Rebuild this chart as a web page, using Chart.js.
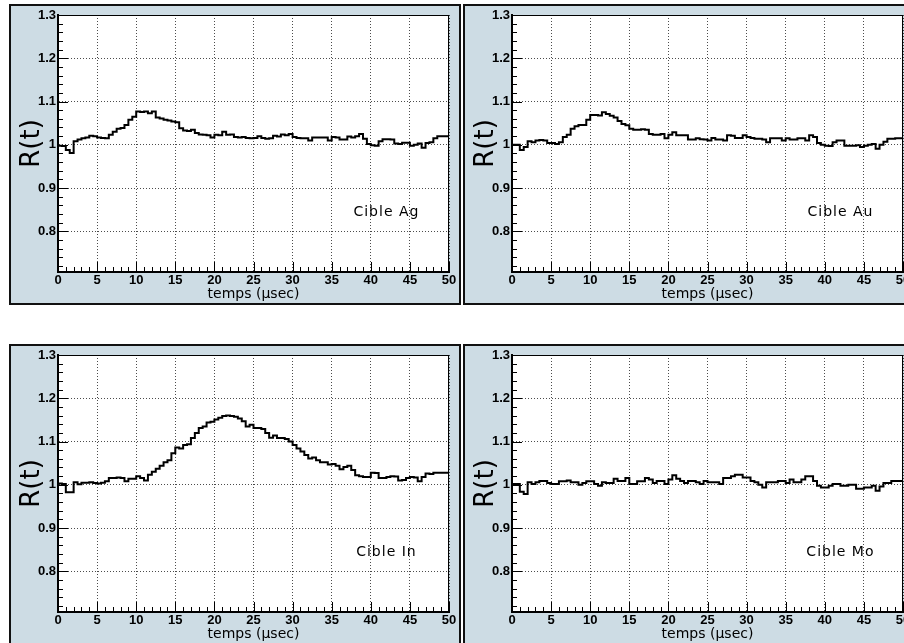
<!DOCTYPE html>
<html>
<head>
<meta charset="utf-8">
<script src="https://cdn.jsdelivr.net/npm/chart.js@4.4.1/dist/chart.umd.min.js"></script>
<style>
html, body { margin: 0; padding: 0; overflow: hidden; background: #fff; }
body { position: relative; width: 904px; height: 643px; }
canvas { position: absolute; }
</style>
</head>
<body>
<canvas id="chartAg" width="452" height="301" style="left:9px;top:4px"></canvas>
<canvas id="chartAu" width="452" height="301" style="left:463px;top:4px"></canvas>
<canvas id="chartIn" width="452" height="301" style="left:9px;top:344px"></canvas>
<canvas id="chartMo" width="452" height="301" style="left:463px;top:344px"></canvas>
<script>
const binWidth = 0.5;
const xTicks = [0, 5, 10, 15, 20, 25, 30, 35, 40, 45, 50];
const yTicks = [0.8, 0.9, 1, 1.1, 1.2, 1.3];
const targets = ['Cible Ag', 'Cible Au', 'Cible In', 'Cible Mo'];

const agValues = [
    1.002, 0.998, 0.997, 0.988, 0.981, 1.008, 1.012, 1.015, 1.017, 1.021,
    1.020, 1.017, 1.016, 1.015, 1.023, 1.030, 1.037, 1.039, 1.046, 1.058,
    1.065, 1.077, 1.076, 1.077, 1.073, 1.077, 1.063, 1.061, 1.058, 1.056,
    1.054, 1.052, 1.038, 1.033, 1.032, 1.035, 1.027, 1.024, 1.023, 1.022,
    1.017, 1.023, 1.022, 1.030, 1.023, 1.024, 1.018, 1.017, 1.018, 1.016,
    1.015, 1.016, 1.020, 1.016, 1.014, 1.015, 1.021, 1.019, 1.024, 1.022,
    1.025, 1.018, 1.016, 1.015, 1.015, 1.010, 1.017, 1.017, 1.017, 1.017,
    1.010, 1.018, 1.017, 1.012, 1.012, 1.019, 1.017, 1.020, 1.025, 1.014,
    1.002, 0.999, 0.998, 1.008, 1.013, 1.013, 1.012, 1.003, 1.002, 1.005,
    1.005, 0.998, 1.000, 1.003, 0.993, 1.004, 1.006, 1.015, 1.020, 1.020
];
const auValues = [
    1.000, 1.000, 1.000, 0.988, 0.995, 1.008, 1.006, 1.010, 1.011, 1.010,
    1.004, 1.004, 1.002, 1.006, 1.018, 1.023, 1.037, 1.043, 1.046, 1.046,
    1.058, 1.069, 1.069, 1.068, 1.075, 1.071, 1.067, 1.063, 1.055, 1.048,
    1.045, 1.037, 1.035, 1.035, 1.036, 1.035, 1.025, 1.023, 1.023, 1.025,
    1.015, 1.023, 1.029, 1.022, 1.022, 1.022, 1.012, 1.012, 1.015, 1.013,
    1.012, 1.010, 1.016, 1.012, 1.012, 1.010, 1.022, 1.021, 1.016, 1.016,
    1.022, 1.018, 1.016, 1.014, 1.014, 1.012, 1.006, 1.015, 1.015, 1.015,
    1.010, 1.015, 1.012, 1.012, 1.015, 1.015, 1.010, 1.022, 1.018, 1.004,
    1.000, 0.998, 0.997, 1.006, 1.010, 1.010, 0.998, 0.998, 0.998, 0.999,
    0.995, 0.998, 1.000, 1.002, 0.991, 1.000, 1.007, 1.014, 1.014, 1.015
];
const inValues = [
    1.000, 1.003, 1.002, 0.983, 0.983, 1.006, 1.001, 1.005, 1.005, 1.006,
    1.004, 1.003, 1.005, 1.008, 1.016, 1.016, 1.017, 1.016, 1.008, 1.014,
    1.014, 1.020, 1.016, 1.010, 1.023, 1.030, 1.037, 1.044, 1.052, 1.057,
    1.073, 1.086, 1.084, 1.092, 1.094, 1.108, 1.120, 1.131, 1.135, 1.144,
    1.146, 1.151, 1.155, 1.159, 1.160, 1.159, 1.157, 1.153, 1.147, 1.135,
    1.139, 1.131, 1.131, 1.129, 1.120, 1.109, 1.114, 1.108, 1.108, 1.106,
    1.100, 1.092, 1.084, 1.077, 1.069, 1.061, 1.063, 1.057, 1.052, 1.052,
    1.047, 1.048, 1.044, 1.036, 1.041, 1.044, 1.034, 1.022, 1.020, 1.018,
    1.018, 1.028, 1.027, 1.016, 1.016, 1.018, 1.020, 1.019, 1.010, 1.011,
    1.016, 1.018, 1.017, 1.008, 1.018, 1.026, 1.025, 1.028, 1.028, 1.028
];
const moValues = [
    1.006, 1.002, 1.002, 0.984, 0.979, 1.006, 1.002, 1.006, 1.009, 1.009,
    1.004, 1.002, 1.002, 1.008, 1.008, 1.010, 1.006, 1.006, 1.000, 1.004,
    1.008, 1.008, 1.002, 0.998, 1.006, 1.004, 1.004, 1.014, 1.009, 1.009,
    1.016, 1.002, 1.002, 1.008, 1.008, 1.016, 1.012, 1.004, 1.009, 1.009,
    1.002, 1.012, 1.022, 1.014, 1.009, 1.004, 1.009, 1.009, 1.006, 1.002,
    1.009, 1.006, 1.006, 1.006, 1.002, 1.016, 1.016, 1.020, 1.023, 1.023,
    1.017, 1.017, 1.009, 1.006, 1.000, 0.994, 1.006, 1.006, 1.006, 1.009,
    1.009, 1.004, 1.012, 1.006, 1.006, 1.012, 1.020, 1.020, 1.009, 0.998,
    0.994, 0.994, 0.998, 1.002, 1.002, 0.998, 0.998, 1.000, 1.000, 0.991,
    0.991, 0.994, 0.994, 0.998, 0.986, 0.996, 1.004, 1.004, 1.009, 1.009
];

function toSteps(values) {
    const pts = values.map((v, i) => ({ x: i * binWidth, y: v }));
    pts.push({ x: values.length * binWidth, y: values[values.length - 1] });
    return pts;
}

const panelPlugin = {
    id: 'panel',
    beforeDraw: (chart) => {
        const { ctx, chartArea: a, width, height } = chart;
        ctx.save();
        ctx.fillStyle = '#cddce4';
        ctx.fillRect(0, 0, width, height);
        ctx.fillStyle = '#fff';
        ctx.fillRect(a.left, a.top, a.right - a.left, a.bottom - a.top);
        ctx.strokeStyle = '#111';
        ctx.lineWidth = 2;
        ctx.strokeRect(1, 1, width - 2, height - 2);
        ctx.restore();
    },
    afterDraw: (chart, args, options) => {
        const { ctx, chartArea: a } = chart;
        const xs = chart.scales.x;
        const ys = chart.scales.y;
        ctx.save();
        ctx.strokeStyle = '#000';
        ctx.lineWidth = 1;
        ctx.beginPath();
        for (let k = Math.ceil(ys.min / 0.02); k * 0.02 <= ys.max + 1e-9; k++) {
            const py = Math.round(ys.getPixelForValue(k * 0.02)) + 0.5;
            const len = k % 5 === 0 ? 10 : 5;
            ctx.moveTo(a.left, py);
            ctx.lineTo(a.left + len, py);
        }
        for (let k = 0; k <= 50; k++) {
            const px = Math.round(xs.getPixelForValue(k)) + 0.5;
            const len = k % 5 === 0 ? 10 : 5;
            ctx.moveTo(px, a.bottom);
            ctx.lineTo(px, a.bottom - len);
        }
        ctx.stroke();
        ctx.strokeRect(a.left + 0.5, a.top + 0.5, a.right - a.left - 1, a.bottom - a.top - 1);
        ctx.fillStyle = '#000';
        ctx.font = '14px "DejaVu Sans"';
        ctx.letterSpacing = '1px';
        ctx.textAlign = 'center';
        ctx.textBaseline = 'middle';
        ctx.fillText(options.label, a.left + (a.right - a.left) * 0.84, a.top + (a.bottom - a.top) * 0.767);
        ctx.restore();
    }
};

function makeChart(id, values, label) {
    const ctx = document.getElementById(id).getContext('2d');
    return new Chart(ctx, {
        type: 'line',
        data: {
            datasets: [{
                data: toSteps(values),
                stepped: 'after',
                borderColor: '#000',
                borderWidth: 2,
                pointRadius: 0,
                fill: false,
            }]
        },
        options: {
            responsive: false,
            animation: false,
            events: [],
            layout: {
                padding: { left: 0, top: 11, right: 12, bottom: 0 },
            },
            plugins: {
                legend: { display: false },
                tooltip: { enabled: false },
                panel: { label: label },
            },
            scales: {
                x: {
                    type: 'linear',
                    min: 0,
                    max: 50,
                    afterBuildTicks: (scale) => {
                        scale.ticks = xTicks.map(v => ({ value: v }));
                    },
                    afterFit: (scale) => {
                        scale.height = 33;
                    },
                    grid: {
                        color: 'rgba(0, 0, 0, 0.7)',
                        lineWidth: 1,
                        drawTicks: false,
                    },
                    border: {
                        color: '#000',
                        width: 2,
                        dash: [1, 2],
                    },
                    ticks: {
                        color: '#000',
                        padding: 1,
                        maxRotation: 0,
                        autoSkip: false,
                        font: { family: '"Liberation Sans"', size: 13, weight: 'bold' },
                    },
                    title: {
                        display: true,
                        text: 'temps (µsec)',
                        color: '#000',
                        padding: { top: 0, bottom: 4 },
                        font: { family: '"DejaVu Sans"', size: 14, lineHeight: 1 },
                    },
                },
                y: {
                    min: 0.706,
                    max: 1.3,
                    afterBuildTicks: (scale) => {
                        scale.ticks = yTicks.map(v => ({ value: v }));
                    },
                    afterFit: (scale) => {
                        scale.width = 49;
                    },
                    grid: {
                        color: 'rgba(0, 0, 0, 0.7)',
                        lineWidth: 1,
                        drawTicks: false,
                    },
                    border: {
                        color: '#000',
                        width: 2,
                        dash: [1, 2],
                    },
                    ticks: {
                        color: '#000',
                        padding: 2,
                        callback: (v) => String(Math.round(v * 10) / 10),
                        font: { family: '"Liberation Sans"', size: 13, weight: 'bold' },
                    },
                    title: {
                        display: true,
                        text: 'R(t)',
                        color: '#000',
                        padding: { top: 10, bottom: 0 },
                        font: { family: '"DejaVu Sans"', size: 26, lineHeight: 1 },
                    },
                },
            },
        },
        plugins: [panelPlugin],
    });
}

makeChart('chartAg', agValues, targets[0]);
makeChart('chartAu', auValues, targets[1]);
makeChart('chartIn', inValues, targets[2]);
makeChart('chartMo', moValues, targets[3]);
</script>
</body>
</html>
